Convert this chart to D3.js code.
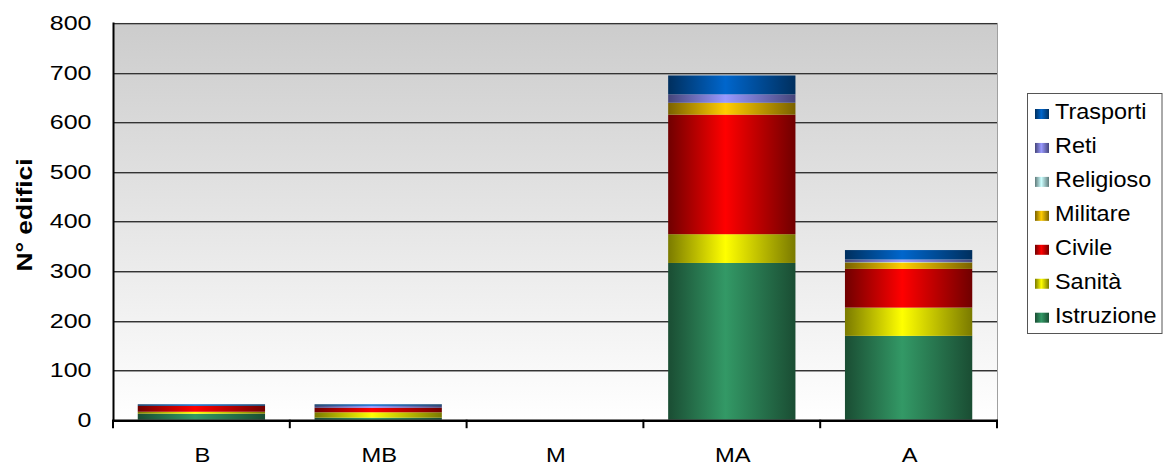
<!DOCTYPE html>
<html><head><meta charset="utf-8">
<script src="https://cdn.jsdelivr.net/npm/d3@7"></script>
<style>body{margin:0;background:#fff;}svg{display:block;font-family:"Liberation Sans",Arial,sans-serif;}</style>
</head><body>
<svg id="c" width="1163" height="468"></svg>
<script>
const categories = ["B","MB","M","MA","A"];
const seriesNames = ["Istruzione","Sanità","Civile","Militare","Religioso","Reti","Trasporti"];
const istruzione = [12, 4, 0, 316, 169];
const sanita     = [4, 11, 0, 58, 57];
const civile     = [12, 9, 0, 241, 78];
const militare   = [0, 0, 0, 24, 13];
const religioso  = [0, 0, 0, 0, 1];
const reti       = [0, 4, 0, 17, 5];
const trasporti  = [3, 3, 0, 38, 19];
const yTicks = [0,100,200,300,400,500,600,700,800];
const brightColors = ["#339966","#ffff00","#ff0000","#ffcc00","#ccffff","#9999ff","#0066cc"];
const darkColors   = ["#1a4d33","#7a7a00","#700000","#7a6200","#5f7a7a","#45457a","#002f5e"];

const seriesValues = [istruzione, sanita, civile, militare, religioso, reti, trasporti];
const rows = categories.map((c,i)=>{const r={cat:c}; seriesNames.forEach((s,j)=>r[s]=seriesValues[j][i]); return r;});
const stacked = d3.stack().keys(seriesNames)(rows);

const svg = d3.select("#c");
const L=113, R=997, T=22.9, B=419.7;
const x = d3.scaleBand().domain(categories).range([L,R]).paddingInner(0.28).paddingOuter(0.14);
const y = d3.scaleLinear().domain([0,800]).range([B,T]);

const defs = svg.append("defs");
const bg = defs.append("linearGradient").attr("id","bg").attr("x1",0).attr("y1",0).attr("x2",0).attr("y2",1);
bg.append("stop").attr("offset","0").attr("stop-color","#cccccc");
bg.append("stop").attr("offset","1").attr("stop-color","#ffffff");
seriesNames.forEach((s,j)=>{
  const g = defs.append("linearGradient").attr("id","g"+j).attr("x1",0).attr("y1",0).attr("x2",1).attr("y2",0);
  g.append("stop").attr("offset","0").attr("stop-color",darkColors[j]);
  g.append("stop").attr("offset","0.45").attr("stop-color",brightColors[j]);
  g.append("stop").attr("offset","1").attr("stop-color",darkColors[j]);
});

svg.append("rect").attr("x",L).attr("y",T).attr("width",R-L).attr("height",B-T).attr("fill","url(#bg)");

// gridlines
const grid = svg.append("g");
yTicks.filter(t=>t>0).forEach(t=>{
  const yy = Math.round(y(t))+0.5;
  grid.append("line").attr("x1",L).attr("x2",R).attr("y1",yy+1).attr("y2",yy+1).attr("stroke","#9a9a9a");
  grid.append("line").attr("x1",L).attr("x2",R).attr("y1",yy).attr("y2",yy).attr("stroke","#333");
});
svg.append("line").attr("x1",R+0.5).attr("x2",R+0.5).attr("y1",T).attr("y2",B).attr("stroke","#a0a0a0");

// bars
svg.append("g").selectAll("g").data(stacked).join("g")
  .attr("fill",(d,j)=>"url(#g"+j+")")
  .selectAll("rect").data(d=>d).join("rect")
  .attr("x",d=>x(d.data.cat))
  .attr("width",x.bandwidth())
  .attr("y",d=>y(d[1]))
  .attr("height",d=>Math.max(0,y(d[0])-y(d[1])));

// y axis labels
const yAxis = svg.append("g").attr("transform",`translate(${L},0)`)
  .call(d3.axisLeft(y).tickValues(yTicks).tickSize(0).tickFormat(d3.format("d")));
yAxis.select(".domain").remove();
yAxis.selectAll(".tick text")
  .attr("x",0).attr("dy",null).attr("dominant-baseline","central")
  .attr("transform","translate(-21.5,0) scale(1.25,1)")
  .attr("font-size",20).attr("fill","#000").attr("font-family","Liberation Sans, Arial, sans-serif");
svg.append("line").attr("x1",L+0.5).attr("x2",L+0.5).attr("y1",T-0.5).attr("y2",B+1).attr("stroke","#000").attr("stroke-width",2);

// x axis labels
const xAxis = svg.append("g").attr("transform",`translate(0,${B})`)
  .call(d3.axisBottom(x).tickSize(0));
xAxis.select(".domain").remove();
xAxis.selectAll(".tick text")
  .attr("y",0).attr("dy",null)
  .attr("transform","translate(1,42.5) scale(1.13,1)")
  .attr("font-size",21).attr("fill","#000").attr("font-family","Liberation Sans, Arial, sans-serif");
svg.append("line").attr("x1",L-0.5).attr("x2",R+1).attr("y1",B+1).attr("y2",B+1).attr("stroke","#000").attr("stroke-width",2.5);
const bounds = categories.map(c=>x(c)-x.step()*x.paddingInner()/2).concat([R]);
svg.append("g").selectAll("line").data(bounds).join("line")
  .attr("x1",d=>d).attr("x2",d=>d).attr("y1",B).attr("y2",B+8.5).attr("stroke","#000").attr("stroke-width",2);

// y title
svg.append("text").attr("transform","translate(31.5,215) rotate(-90) scale(1.2,1)").attr("text-anchor","middle")
  .attr("font-size",22).attr("font-weight","bold").text("N° edifici");

// legend
const lg = svg.append("g");
lg.append("rect").attr("x",1027.5).attr("y",93.5).attr("width",134.5).attr("height",240).attr("fill","#fff").attr("stroke","#555");
const legendOrder = seriesNames.map((s,j)=>j).reverse();
legendOrder.forEach((j,k)=>{
  const base = 119 + k*33.95;
  lg.append("rect").attr("x",1035).attr("y",base-10).attr("width",14).attr("height",10).attr("fill","url(#g"+j+")");
  lg.append("text").attr("transform",`translate(1055,${base}) scale(1.09,1)`).attr("font-size",21.5).attr("fill","#000").text(seriesNames[j]);
});
</script>
</body></html>
